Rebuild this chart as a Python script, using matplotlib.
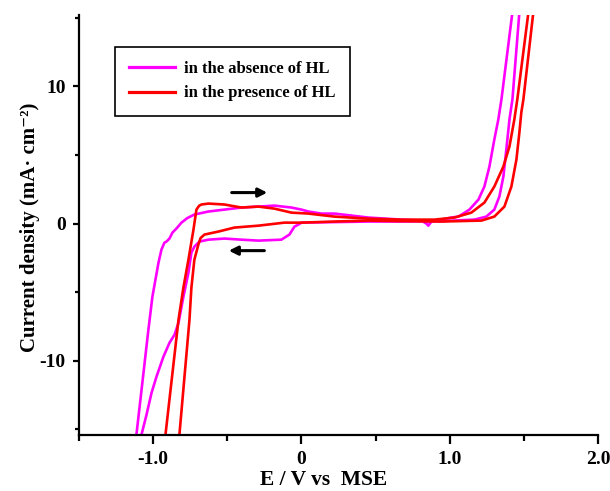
import matplotlib
matplotlib.use("Agg")
import matplotlib.pyplot as plt
from matplotlib.ticker import FixedLocator, FixedFormatter

# ---------------- data (E in V vs MSE, j in mA cm^-2) ----------------
# absence of HL (magenta) - forward (anodic) scan
abs_fwd_E = [-1.113, -1.032, -1.005, -0.964, -0.944, -0.924, -0.910, -0.890, -0.870, -0.843,
             -0.809, -0.770, -0.722, -0.627, -0.519, -0.405, -0.290, -0.182, -0.067, 0.000,
             0.047, 0.135, 0.223, 0.452, 0.674, 0.809, 0.843, 0.856, 0.877, 0.944,
             1.011, 1.059, 1.133, 1.194, 1.234, 1.268, 1.301, 1.328, 1.349, 1.423]
abs_fwd_j = [-15.40, -7.74, -5.33, -2.85, -1.90, -1.39, -1.31, -1.09, -0.66, -0.36,
             0.07, 0.40, 0.66, 0.88, 1.02, 1.17, 1.24, 1.31, 1.17, 1.02,
             0.88, 0.73, 0.73, 0.44, 0.29, 0.22, 0.00, -0.15, 0.15, 0.29,
             0.44, 0.51, 1.02, 1.75, 2.70, 4.16, 6.13, 7.59, 9.05, 15.40]
# absence of HL (magenta) - reverse scan
abs_rev_E = [1.470, 1.423, 1.403, 1.382, 1.362, 1.335, 1.301, 1.247, 1.167, 0.944,
             0.674, 0.452, 0.223, 0.000, -0.020, -0.047, -0.081, -0.135, -0.290,
             -0.405, -0.519, -0.627, -0.688, -0.722, -0.742, -0.762, -0.796, -0.829,
             -0.856, -0.890, -0.931, -0.978, -1.011, -1.045, -1.079]
abs_rev_j = [15.40, 9.05, 7.59, 5.40, 3.43, 1.97, 1.02, 0.51, 0.29, 0.18,
             0.15, 0.15, 0.11, 0.07, -0.07, -0.22, -0.80, -1.17, -1.24,
             -1.17, -1.09, -1.17, -1.31, -1.68, -2.12, -3.58, -5.33, -7.23,
             -8.10, -8.69, -9.71, -11.17, -12.34, -13.94, -15.40]

# presence of HL (red) - forward scan
pre_fwd_E = [-0.917, -0.829, -0.796, -0.762, -0.728, -0.708, -0.690, -0.674, -0.627, -0.519,
             -0.405, -0.290, -0.182, -0.067, 0.047, 0.223, 0.452, 0.674, 0.897,
             1.032, 1.146, 1.234, 1.301, 1.362, 1.403, 1.436, 1.456, 1.531]
pre_fwd_j = [-15.40, -7.01, -4.67, -2.63, -0.44, 1.02, 1.30, 1.39, 1.46, 1.39,
             1.17, 1.24, 1.09, 0.80, 0.73, 0.51, 0.36, 0.29, 0.29,
             0.44, 0.80, 1.53, 2.70, 4.16, 5.62, 7.59, 9.05, 15.40]
# presence of HL (red) - reverse scan
pre_rev_E = [1.564, 1.497, 1.483, 1.470, 1.450, 1.416, 1.369, 1.301, 1.214, 0.944,
             0.674, 0.452, 0.223, 0.000, -0.115, -0.290, -0.452, -0.560, -0.654,
             -0.680, -0.695, -0.722, -0.742, -0.755, -0.823]
pre_rev_j = [15.40, 9.05, 8.10, 6.64, 4.67, 2.70, 1.24, 0.51, 0.22, 0.15,
             0.18, 0.22, 0.15, 0.07, 0.07, -0.15, -0.29, -0.58, -0.80,
             -1.05, -1.53, -2.63, -4.67, -7.01, -15.40]

legend_labels = ["in the absence of HL", "in the presence of HL"]
x_major = [-1.0, 0.0, 1.0, 2.0]
x_major_labels = ["-1.0", "0", "1.0", "2.0"]
x_minor = [-1.5, -0.5, 0.5, 1.5]
y_major = [-10, 0, 10]
y_major_labels = ["-10", "0", "10"]
y_minor = [-15, -5, 5, 15]

# scan-direction arrows (tail, head) in data coordinates
arrow_fwd = ((-0.47, 2.26), (-0.23, 2.26))
arrow_rev = ((-0.25, -1.97), (-0.49, -1.97))

# ---------------- style ----------------
plt.rcParams.update({
    "font.family": ["Liberation Serif", "DejaVu Serif"],
    "font.weight": "bold",
    "axes.unicode_minus": False,
})

MAG = "#FF00FF"
RED = "#FF0000"
LW = 1.9

fig = plt.figure(figsize=(6.10, 4.91), dpi=100)
ax = fig.add_axes([0.1295, 0.1141, 0.8508, 0.8554])

ax.plot(abs_fwd_E, abs_fwd_j, color=MAG, lw=LW, label=legend_labels[0],
        solid_joinstyle="round")
ax.plot(abs_rev_E, abs_rev_j, color=MAG, lw=LW, solid_joinstyle="round")
ax.plot(pre_fwd_E, pre_fwd_j, color=RED, lw=LW, label=legend_labels[1],
        solid_joinstyle="round")
ax.plot(pre_rev_E, pre_rev_j, color=RED, lw=LW, solid_joinstyle="round")

for tail, head in (arrow_fwd, arrow_rev):
    ax.annotate("", xy=head, xytext=tail,
                arrowprops=dict(arrowstyle="-|>", color="black", lw=2.2,
                                mutation_scale=13, shrinkA=0, shrinkB=0))

ax.set_xlim(-1.5, 2.0)
ax.set_ylim(-15.4, 15.2)

for s in ("top", "right"):
    ax.spines[s].set_visible(False)
for s in ("left", "bottom"):
    ax.spines[s].set_linewidth(1.6)

ax.xaxis.set_major_locator(FixedLocator(x_major))
ax.xaxis.set_major_formatter(FixedFormatter(x_major_labels))
ax.xaxis.set_minor_locator(FixedLocator(x_minor))
ax.yaxis.set_major_locator(FixedLocator(y_major))
ax.yaxis.set_major_formatter(FixedFormatter(y_major_labels))
ax.yaxis.set_minor_locator(FixedLocator(y_minor))

ax.tick_params(axis="x", which="major", direction="out", length=6.5, width=1.6,
               labelsize=14, pad=5)
ax.tick_params(axis="x", which="minor", direction="out", length=4.5, width=1.6)
ax.tick_params(axis="y", which="major", direction="out", length=4.5, width=1.6,
               labelsize=14, pad=5)
ax.tick_params(axis="y", which="minor", direction="out", length=3.0, width=1.6)
for lab in ax.get_xticklabels() + ax.get_yticklabels():
    lab.set_fontweight("bold")

ax.set_xlabel("E / V vs  MSE", fontsize=15.5, fontweight="bold")
ax.xaxis.set_label_coords(0.472, -0.083)
ax.set_ylabel("Current density (mA\u00b7 cm\u207b\u00b2)", fontsize=15, fontweight="bold")
ax.yaxis.set_label_coords(-0.075, 0.495)

leg = ax.legend(loc="upper left", bbox_to_anchor=(0.069, 0.924), borderaxespad=0,
                handlelength=2.75, handletextpad=0.55,
                borderpad=0.85, labelspacing=0.5, fancybox=False,
                edgecolor="black", framealpha=1.0,
                prop={"family": ["Liberation Serif"], "weight": "bold", "size": 12})
leg.get_frame().set_linewidth(1.2)
for line in leg.get_lines():
    line.set_linewidth(2.3)

fig.savefig("out.png", dpi=100)
